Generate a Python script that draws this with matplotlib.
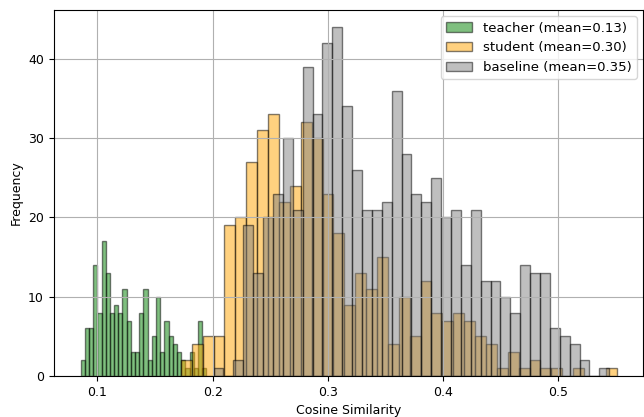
import numpy as np
import matplotlib
matplotlib.use("Agg")
import matplotlib.pyplot as plt

# bin ranges (start, stop) and counts
teacher_range = (0.0854, 0.1947)
teacher_counts = [2, 6, 6, 14, 8, 17, 13, 8, 9, 8, 11, 7, 3, 3, 8,
                  11, 2, 5, 10, 3, 7, 5, 4, 3, 2, 1, 3, 1, 7, 1]

student_range = (0.1725, 0.5507)
student_counts = [2, 4, 5, 5, 19, 20, 27, 31, 33, 22, 24, 32, 30, 23, 18,
                  9, 13, 11, 15, 4, 10, 5, 12, 8, 7, 8, 7, 5, 4, 1,
                  3, 1, 2, 1, 1, 0, 1, 0, 0, 1]

baseline_range = (0.2009, 0.5442)
baseline_counts = [1, 0, 2, 19, 13, 20, 23, 30, 21, 39, 33, 42, 44, 34, 26,
                   21, 21, 22, 36, 28, 23, 22, 25, 20, 21, 14, 21, 12, 12, 10,
                   8, 14, 13, 13, 6, 5, 4, 2, 0, 1]

labels = ["teacher (mean=0.13)", "student (mean=0.30)", "baseline (mean=0.35)"]
colors = ["green", "orange", "gray"]

plt.rcParams["font.size"] = 9


def plot_hist(ax, rng, counts, label, color):
    """Draw one histogram from pre-binned counts."""
    edges = np.linspace(rng[0], rng[1], len(counts) + 1)
    ax.hist(edges[:-1], bins=edges, weights=counts, alpha=0.5,
            color=color, edgecolor="black", label=label)


fig = plt.figure(figsize=(6.44, 4.17), dpi=100)
ax = fig.add_subplot(111)
fig.subplots_adjust(left=0.0834, right=0.9992, top=0.9767, bottom=0.0983)

plot_hist(ax, teacher_range, teacher_counts, labels[0], colors[0])
plot_hist(ax, student_range, student_counts, labels[1], colors[1])
plot_hist(ax, baseline_range, baseline_counts, labels[2], colors[2])

ax.set_xlabel("Cosine Similarity")
ax.set_ylabel("Frequency")
ax.legend(loc="upper right", fontsize=9.5)
ax.grid(True)

fig.savefig("out.png", dpi=100)
